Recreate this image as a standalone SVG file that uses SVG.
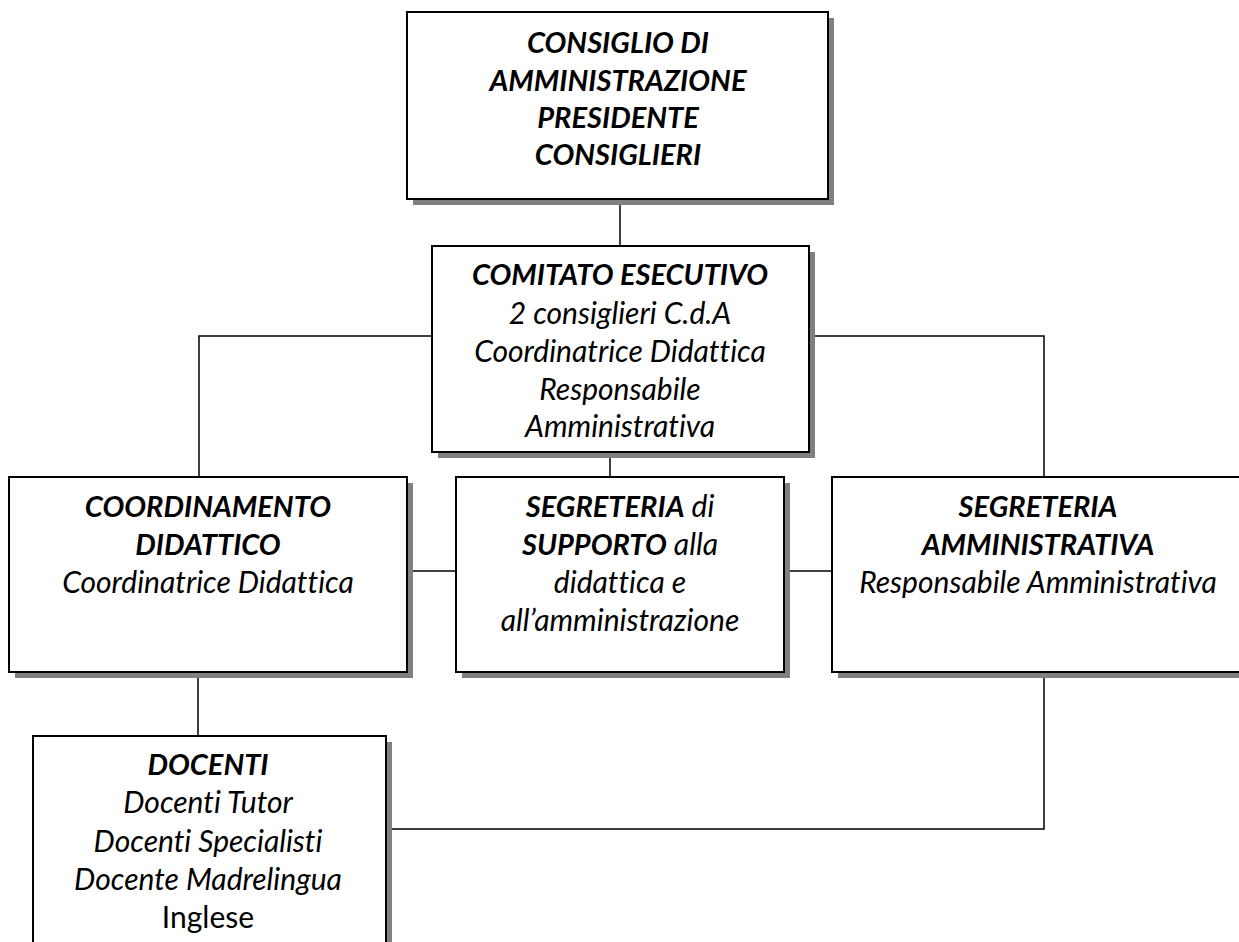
<svg xmlns="http://www.w3.org/2000/svg" width="1239" height="942" viewBox="0 0 1239 942">
<style>
.box{fill:#ffffff;stroke:#000000;stroke-width:2}
.sh{fill:#808080}
.ln{fill:none;stroke:#000000;stroke-width:1.5}
text{font-family:Lato,"Open Sans","Liberation Sans",sans-serif;font-size:30px;font-style:italic;text-anchor:middle;fill:#000;font-variant-ligatures:none}
.b{font-weight:bold;font-size:29px}
.n{font-style:normal}
</style>
<rect width="1239" height="942" fill="#ffffff"/>
<g id="connectors">
<path class="ln" d="M620 199V246"/>
<path class="ln" d="M199 477V336H1044V477"/>
<path class="ln" d="M610 452V477"/>
<path class="ln" d="M407 571H456"/>
<path class="ln" d="M784 571H832"/>
<path class="ln" d="M198 672V736"/>
<path class="ln" d="M386 829H1044V672"/>
</g>
<g id="cda">
<rect class="sh" x="413" y="18" width="421" height="187"/>
<rect class="box" x="407" y="12" width="421" height="187"/>
<text x="618" y="53" class="b">CONSIGLIO DI</text>
<text x="618" y="91" class="b">AMMINISTRAZIONE</text>
<text x="618" y="128" class="b">PRESIDENTE</text>
<text x="618" y="165" class="b">CONSIGLIERI</text>
</g>
<g id="comitato">
<rect class="sh" x="438" y="252" width="377" height="206"/>
<rect class="box" x="432" y="246" width="377" height="206"/>
<text x="620" y="285" class="b">COMITATO ESECUTIVO</text>
<text x="620" y="324">2 consiglieri C.d.A</text>
<text x="620" y="362">Coordinatrice Didattica</text>
<text x="620" y="400">Responsabile</text>
<text x="620" y="437">Amministrativa</text>
</g>
<g id="coordinamento">
<rect class="sh" x="15" y="483" width="398" height="195"/>
<rect class="box" x="9" y="477" width="398" height="195"/>
<text x="208" y="517" class="b">COORDINAMENTO</text>
<text x="208" y="555" class="b">DIDATTICO</text>
<text x="208" y="593">Coordinatrice Didattica</text>
</g>
<g id="segreteria-supporto">
<rect class="sh" x="462" y="483" width="328" height="195"/>
<rect class="box" x="456" y="477" width="328" height="195"/>
<text x="620" y="517"><tspan class="b">SEGRETERIA</tspan> di</text>
<text x="620" y="555"><tspan class="b">SUPPORTO</tspan> alla</text>
<text x="620" y="593">didattica e</text>
<text x="620" y="631">all’amministrazione</text>
</g>
<g id="segreteria-amministrativa">
<rect class="sh" x="838" y="483" width="410" height="195"/>
<rect class="box" x="832" y="477" width="410" height="195"/>
<text x="1038" y="517" class="b">SEGRETERIA</text>
<text x="1038" y="555" class="b">AMMINISTRATIVA</text>
<text x="1038" y="593">Responsabile Amministrativa</text>
</g>
<g id="docenti">
<rect class="sh" x="39" y="742" width="353" height="220"/>
<rect class="box" x="33" y="736" width="353" height="220"/>
<text x="208" y="775" class="b">DOCENTI</text>
<text x="208" y="813">Docenti Tutor</text>
<text x="208" y="852">Docenti Specialisti</text>
<text x="208" y="890">Docente Madrelingua</text>
<text x="208" y="928" class="n">Inglese</text>
</g>
</svg>
